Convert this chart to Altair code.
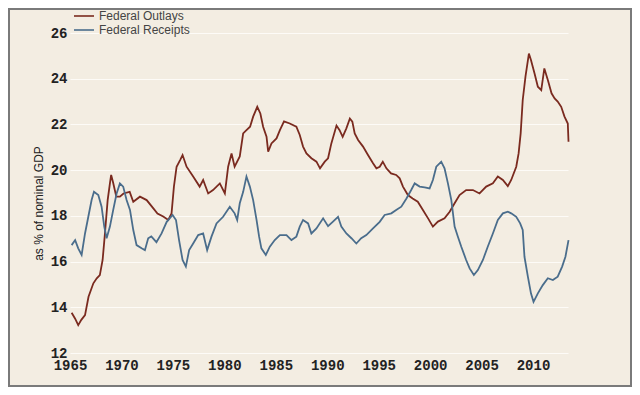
import altair as alt
import pandas as pd

# ---- data ----
outlays_year = [1965.16, 1965.5, 1965.8, 1966.1, 1966.46, 1966.8, 1967.27, 1967.6, 1967.9, 1968.17,
                1968.4, 1968.66, 1968.9, 1969.0, 1969.2, 1969.5, 1969.85, 1970.2, 1970.8, 1971.15,
                1971.8, 1972.45, 1973.1, 1973.5, 1974.06, 1974.55, 1974.87, 1975.1, 1975.36, 1975.7,
                1975.94, 1976.33, 1976.97, 1977.6, 1977.94, 1978.43, 1978.9, 1979.56, 1980.05, 1980.37,
                1980.7, 1981.0, 1981.5, 1981.83, 1982.15, 1982.5, 1982.8, 1983.2, 1983.5, 1983.77,
                1984.1, 1984.26, 1984.58, 1985.07, 1985.4, 1985.8, 1986.36, 1987.0, 1987.33, 1987.65,
                1987.98, 1988.46, 1988.95, 1989.3, 1989.76, 1990.08, 1990.4, 1990.9, 1991.2, 1991.5,
                1991.86, 1992.2, 1992.44, 1992.67, 1993.0, 1993.48, 1993.96, 1994.45, 1994.78, 1995.1,
                1995.4, 1995.75, 1996.2, 1996.7, 1997.04, 1997.36, 1997.84, 1998.3, 1998.8, 1999.3,
                1999.8, 2000.27, 2000.76, 2001.4, 2001.9, 2002.38, 2002.86, 2003.5, 2004.16, 2004.8,
                2005.45, 2006.1, 2006.58, 2007.07, 2007.55, 2007.88, 2008.37, 2008.6, 2008.8, 2009.0,
                2009.27, 2009.6, 2009.8, 2010.15, 2010.47, 2010.8, 2011.1, 2011.44, 2011.8, 2012.1,
                2012.4, 2012.74, 2013.06, 2013.38, 2013.45]
outlays_pct = [13.76, 13.5, 13.22, 13.45, 13.66, 14.46, 15.05, 15.27, 15.41, 16.07,
               17.25, 18.69, 19.49, 19.79, 19.44, 18.84, 18.84, 18.98, 19.05, 18.62,
               18.84, 18.69, 18.33, 18.1, 17.97, 17.82, 18.11, 19.28, 20.15, 20.44,
               20.66, 20.15, 19.72, 19.28, 19.57, 18.98, 19.13, 19.42, 18.98, 20.15,
               20.73, 20.15, 20.6, 21.61, 21.75, 21.9, 22.34, 22.77, 22.48, 21.9,
               21.46, 20.81, 21.17, 21.39, 21.75, 22.13, 22.04, 21.9, 21.54, 21.03,
               20.73, 20.52, 20.37, 20.08, 20.37, 20.52, 21.17, 21.95, 21.75, 21.46,
               21.83, 22.26, 22.12, 21.61, 21.32, 21.03, 20.66, 20.3, 20.08, 20.15,
               20.37, 20.08, 19.86, 19.79, 19.64, 19.28, 18.91, 18.76, 18.62, 18.26,
               17.89, 17.53, 17.75, 17.89, 18.18, 18.55, 18.91, 19.13, 19.13, 18.98,
               19.28, 19.42, 19.72, 19.57, 19.3, 19.57, 20.15, 20.73, 21.61, 23.07,
               24.1, 25.1, 24.82, 24.23, 23.65, 23.5, 24.45, 23.94, 23.36, 23.14,
               23.0, 22.77, 22.34, 22.04, 21.24]

receipts_year = [1965.16, 1965.5, 1965.8, 1966.13, 1966.46, 1966.78, 1967.1, 1967.33, 1967.75, 1968.07,
                 1968.33, 1968.56, 1968.88, 1969.2, 1969.53, 1969.85, 1970.17, 1970.5, 1970.83, 1971.15,
                 1971.47, 1971.96, 1972.28, 1972.6, 1972.9, 1973.4, 1973.9, 1974.4, 1974.97, 1975.3,
                 1975.6, 1975.94, 1976.26, 1976.58, 1976.97, 1977.46, 1977.94, 1978.33, 1978.75, 1979.24,
                 1979.88, 1980.53, 1981.0, 1981.25, 1981.5, 1981.83, 1982.15, 1982.48, 1982.8, 1983.13,
                 1983.38, 1983.6, 1984.03, 1984.42, 1984.9, 1985.4, 1986.04, 1986.52, 1987.0, 1987.33,
                 1987.65, 1988.14, 1988.46, 1988.95, 1989.6, 1990.08, 1990.56, 1991.05, 1991.37, 1991.86,
                 1992.35, 1992.83, 1993.3, 1993.8, 1994.45, 1995.1, 1995.58, 1996.23, 1996.7, 1997.2,
                 1997.7, 1998.16, 1998.5, 1998.98, 1999.47, 1999.95, 2000.27, 2000.6, 2001.08, 2001.4,
                 2001.73, 2002.06, 2002.38, 2002.7, 2003.03, 2003.5, 2003.84, 2004.25, 2004.64, 2005.13,
                 2005.6, 2006.1, 2006.58, 2007.07, 2007.55, 2007.88, 2008.37, 2008.75, 2009.0, 2009.17,
                 2009.5, 2009.8, 2010.05, 2010.47, 2010.95, 2011.44, 2011.93, 2012.4, 2012.83, 2013.15,
                 2013.45]
receipts_pct = [16.72, 16.94, 16.58, 16.29, 17.23, 17.96, 18.69, 19.05, 18.91, 18.4,
                17.53, 17.02, 17.53, 18.26, 18.98, 19.42, 19.28, 18.69, 18.26, 17.38,
                16.72, 16.58, 16.5, 17.02, 17.1, 16.85, 17.23, 17.74, 18.04, 17.82,
                16.94, 16.07, 15.78, 16.5, 16.79, 17.16, 17.23, 16.5, 17.09, 17.67,
                17.96, 18.4, 18.11, 17.82, 18.55, 19.05, 19.72, 19.28, 18.69, 17.82,
                17.09, 16.58, 16.29, 16.65, 16.94, 17.16, 17.16, 16.94, 17.09, 17.53,
                17.82, 17.67, 17.23, 17.45, 17.89, 17.55, 17.75, 17.96, 17.53, 17.23,
                17.02, 16.79, 17.02, 17.16, 17.45, 17.74, 18.04, 18.11, 18.26, 18.4,
                18.76, 19.13, 19.42, 19.28, 19.25, 19.2, 19.57, 20.15, 20.37, 20.08,
                19.42, 18.69, 17.53, 17.09, 16.65, 16.07, 15.7, 15.41, 15.63, 16.07,
                16.65, 17.23, 17.82, 18.11, 18.18, 18.11, 17.96, 17.67, 17.38, 16.21,
                15.34, 14.61, 14.24, 14.61, 14.97, 15.27, 15.19, 15.34, 15.78, 16.21,
                16.94]

series_names = ["Federal Outlays", "Federal Receipts"]
series_colors = ["#7a2a1f", "#4a6d8c"]
x_ticks = [1965, 1970, 1975, 1980, 1985, 1990, 1995, 2000, 2005, 2010]
y_ticks = [12, 14, 16, 18, 20, 22, 24, 26]

df = pd.concat([
    pd.DataFrame({"year": outlays_year, "pct": outlays_pct, "series": series_names[0]}),
    pd.DataFrame({"year": receipts_year, "pct": receipts_pct, "series": series_names[1]}),
])

W, H = 498, 320
PAD = {"left": 62, "top": 25, "right": 64, "bottom": 34}

tick_font = "Liberation Mono"
lines = alt.Chart(df).mark_line(strokeWidth=1.8).encode(
    x=alt.X("year:Q",
            scale=alt.Scale(domain=[1965, 2013.4], nice=False, zero=False),
            axis=alt.Axis(values=x_ticks, format="d", title=None, grid=False, ticks=False,
                          tickSize=0, domain=False, labelFont=tick_font, labelFontWeight="bold",
                          labelFontSize=14, labelColor="#222", labelPadding=5,
                          labelFlush=False, labelBaseline="top")),
    y=alt.Y("pct:Q",
            scale=alt.Scale(domain=[12, 26], nice=False, zero=False),
            axis=alt.Axis(values=y_ticks, title="as % of nominal GDP", grid=True,
                          gridColor="#fdfbf7", gridWidth=1.2, ticks=False, tickSize=0,
                          domain=False, labelFont=tick_font, labelFontWeight="bold",
                          labelFontSize=14, labelColor="#222", labelPadding=3,
                          titleFont="Liberation Sans", titleFontSize=12,
                          titleFontWeight="normal", titleColor="#222",
                          titleX=-32, titleY=170, titleAngle=270,
                          titleAlign="center", titleBaseline="middle")),
    color=alt.Color("series:N",
                    scale=alt.Scale(domain=series_names, range=series_colors),
                    legend=alt.Legend(title=None, orient="none", legendX=8, legendY=-23,
                                      symbolType="M-2,0L2,0", symbolSize=100,
                                      symbolStrokeWidth=1.6, labelFont="Liberation Sans",
                                      labelFontSize=12, labelColor="#444", labelOffset=9,
                                      rowPadding=2, padding=0)),
)

frame = alt.Chart(pd.DataFrame({"k": [0]})).mark_rect(
    filled=False, stroke="#7a7a7a", strokeWidth=2
).encode(
    x=alt.value(-61), x2=alt.value(561), y=alt.value(-24), y2=alt.value(353)
)

chart = alt.layer(lines, frame).properties(
    width=W, height=H,
    autosize=alt.AutoSizeParams(type="none"),
    padding=PAD,
    background="#f3ede2",
).configure_view(stroke=None)

chart.save("out.html", embed_options={"renderer": "svg", "actions": False})
